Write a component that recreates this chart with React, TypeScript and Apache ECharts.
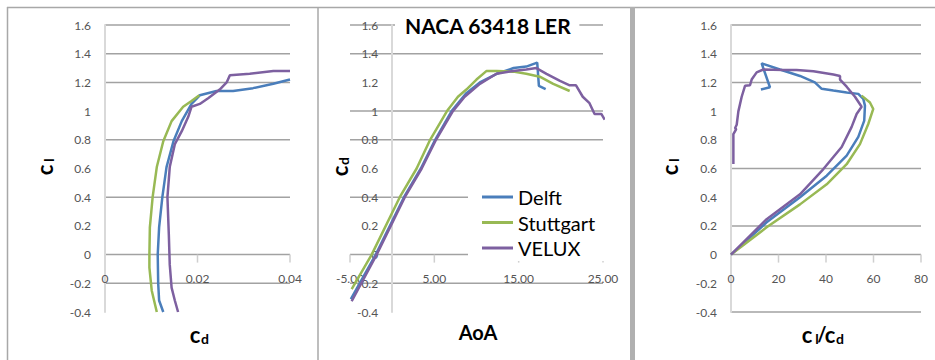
import React, { useEffect, useRef } from "react";
import * as echarts from "echarts";

// ---- data ----
const seriesNames = ["Delft", "Stuttgart", "VELUX"];
const seriesColors = ["#4a7ebb", "#98b954", "#7d60a0"];

// panel 1: cl vs cd  [cd, cl]
const delftCdCl = [[0.0126,-0.40],[0.0117,-0.32],[0.0115,-0.20],[0.0114,0.0],[0.0117,0.19],[0.0124,0.40],[0.0133,0.61],[0.0148,0.79],[0.0166,0.93],[0.0187,1.05],[0.0205,1.11],[0.0241,1.14],[0.0277,1.14],[0.0320,1.16],[0.0364,1.19],[0.0400,1.22]];
const stuttCdCl = [[0.0112,-0.40],[0.0101,-0.25],[0.0096,-0.09],[0.0096,0.0],[0.0097,0.19],[0.0103,0.40],[0.0112,0.61],[0.0126,0.79],[0.0144,0.93],[0.0169,1.03],[0.0187,1.07],[0.0204,1.11]];
const veluxCdCl = [[0.0158,-0.40],[0.0151,-0.32],[0.0144,-0.23],[0.0140,-0.07],[0.0138,0.14],[0.0135,0.40],[0.0140,0.61],[0.0151,0.77],[0.0166,0.86],[0.0180,0.96],[0.0187,1.03],[0.0205,1.05],[0.0223,1.09],[0.0248,1.15],[0.0263,1.20],[0.0270,1.25],[0.0313,1.26],[0.0364,1.28],[0.0400,1.28]];

// panel 2: cl vs AoA  [aoa, cl]
const delftAoaCl = [[-4.9,-0.31],[-1.95,0.0],[1.4,0.4],[3.4,0.6],[5.1,0.8],[7.05,1.0],[8.8,1.125],[10.4,1.2],[12.4,1.26],[14.4,1.30],[15.9,1.31],[17.2,1.338],[17.4,1.176],[18.2,1.153]];
const stuttAoaCl = [[-4.8,-0.24],[-2.43,0.0],[0.9,0.4],[2.9,0.6],[4.5,0.8],[6.5,1.0],[7.8,1.10],[8.8,1.15],[10.0,1.22],[11.2,1.28],[12.4,1.28],[14.35,1.275],[15.9,1.26],[17.5,1.24],[19.1,1.19],[21.05,1.14]];
const veluxAoaCl = [[-4.8,-0.325],[-1.84,0.0],[1.5,0.4],[3.5,0.6],[5.2,0.8],[7.2,1.0],[8.6,1.1],[10.4,1.19],[12.37,1.26],[14.35,1.28],[15.9,1.29],[17.1,1.30],[18.3,1.26],[19.9,1.21],[21.05,1.18],[21.8,1.18],[22.6,1.10],[23.4,1.055],[24.0,0.98],[24.8,0.98],[25.2,0.94]];

// panel 3: cl vs cl/cd  [cl/cd, cl]
const delftLdCl = [[0,0],[15.0,0.225],[29.05,0.40],[40.3,0.55],[48.7,0.69],[53.6,0.82],[56.1,0.934],[56.4,1.038],[55.7,1.085],[53.6,1.12],[48.7,1.13],[43.1,1.143],[38.2,1.155],[35.3,1.20],[29.05,1.245],[20.6,1.29],[12.9,1.333],[16.4,1.166],[12.6,1.15]];
const stuttLdCl = [[0,0],[15.0,0.19],[29.05,0.35],[40.3,0.49],[48.7,0.63],[54.3,0.77],[57.8,0.91],[59.9,1.015],[58.5,1.06],[55.0,1.108]];
const veluxLdCl = [[0,0],[15.0,0.247],[29.05,0.42],[38.9,0.596],[46.6,0.75],[50.8,0.89],[52.9,0.98],[55.0,1.03],[52.2,1.10],[48.7,1.17],[45.9,1.22],[45.9,1.245],[43.1,1.255],[34.7,1.278],[27.6,1.287],[22.0,1.287],[13.6,1.29],[10.8,1.27],[8.7,1.22],[8.0,1.18],[5.9,1.176],[4.5,1.10],[3.1,0.998],[2.4,0.905],[1.7,0.881],[2.2,0.875],[1.0,0.84],[1.0,0.632]];

// axis ranges
const clMin = -0.4, clMax = 1.6, clStep = 0.2;
const xRanges = [
  { min: 0, max: 0.04, interval: 0.02 },
  { min: -5, max: 25, interval: 10 },
  { min: 0, max: 80, interval: 20 },
];
const xTicks = [
  [0, 0.02, 0.04],
  [-5, 5, 15, 25],
  [0, 20, 40, 60, 80],
];

// visible horizontal gridlines in each panel (0 is the x-axis line)
const gridLinesCd = [1.6, 1.4, 1.2, 0.8, 0.4, 0, -0.2];
const gridLinesAoa = [1.6, 1.4, 1.0, 0.8, 0.4, 0, -0.2];
const gridLinesLd = [1.6, 1.4, 1.2, 0.6, 0.2, 0, -0.4];

const titleText = "NACA 63418 LER";

const FONT = "Lato";
const GRID_GRAY = "#a2a2a2";

export default function App() {
  const ref = useRef<HTMLDivElement>(null);
  useEffect(() => {
    if (!ref.current) return;
    const chart = echarts.init(ref.current, null, { renderer: "svg" });

    const grids = [
      { left: 105, top: 25, width: 185, height: 287 },
      { left: 350, top: 25, width: 253, height: 287 },
      { left: 731, top: 25, width: 190, height: 287 },
    ];
    const fmts: any[] = [undefined, (v: number) => v.toFixed(2), undefined];
    // each axis sits where the other axis has its zero
    const xOffset = (i: number) => -((0 - clMin) / (clMax - clMin)) * grids[i].height;
    const yOffset = (i: number) =>
      -((0 - xRanges[i].min) / (xRanges[i].max - xRanges[i].min)) * grids[i].width;

    const xAxis = xRanges.map((c, i) => {
      const ax: any = {
        type: "value",
        gridIndex: i,
        position: "bottom",
        offset: xOffset(i),
        min: c.min,
        max: c.max,
        interval: c.interval,
        axisLine: { show: false, onZero: false },
        axisTick: { show: false },
        splitLine: { show: false },
        axisLabel: { fontFamily: FONT, fontSize: 12, color: "#555", margin: 18 },
      };
      if (fmts[i]) ax.axisLabel.formatter = fmts[i];
      return ax;
    });
    const yAxis = [0, 1, 2].map((i) => ({
      type: "value",
      gridIndex: i,
      position: "left",
      offset: yOffset(i),
      min: clMin,
      max: clMax,
      interval: clStep,
      axisLine: { show: true, onZero: false, lineStyle: { color: "#d9d9d9", width: 2 } },
      axisTick: { show: false },
      splitLine: { show: false },
      axisLabel: { fontFamily: FONT, fontSize: 12, color: "#555", margin: 14 },
    }));

    const dataSets = [
      [delftCdCl, stuttCdCl, veluxCdCl],
      [delftAoaCl, stuttAoaCl, veluxAoaCl],
      [delftLdCl, stuttLdCl, veluxLdCl],
    ];
    const series: any[] = [];
    dataSets.forEach((sets, i) => {
      sets.forEach((d, k) => {
        series.push({
          type: "line",
          name: seriesNames[k],
          xAxisIndex: i,
          yAxisIndex: i,
          data: d,
          showSymbol: false,
          color: seriesColors[k],
          lineStyle: { color: seriesColors[k], width: 2.5 },
        });
      });
    });

    chart.setOption({
      animation: false,
      title: {
        text: titleText,
        left: 395,
        top: 12,
        padding: [3, 8, 3, 10],
        backgroundColor: "#fff",
        textStyle: { fontFamily: FONT, fontWeight: "bold", fontSize: 21, color: "#000" },
      },
      legend: {
        data: seriesNames,
        orient: "vertical",
        left: 468,
        top: 184,
        padding: [3, 10, 3, 14],
        backgroundColor: "#fff",
        icon: "rect",
        itemWidth: 31,
        itemHeight: 3,
        itemGap: 5.5,
        textStyle: { fontFamily: FONT, fontSize: 20, color: "#000", lineHeight: 20 },
      },
      grid: grids,
      xAxis,
      yAxis,
      series,
    });

    // gridlines and x ticks, positioned through the chart's own scales
    const gridLineSets = [gridLinesCd, gridLinesAoa, gridLinesLd];
    const gridEls: any[] = [];
    gridLineSets.forEach((vals, i) => {
      vals.forEach((v) => {
        const p1 = chart.convertToPixel({ gridIndex: i }, [xRanges[i].min, v]) as number[];
        const p2 = chart.convertToPixel({ gridIndex: i }, [xRanges[i].max, v]) as number[];
        if (!p1 || !p2) return;
        gridEls.push({
          type: "line",
          silent: true,
          z: 0,
          shape: { x1: p1[0], y1: p1[1], x2: p2[0], y2: p2[1] },
          style: { stroke: GRID_GRAY, lineWidth: 1.5 },
        });
      });
      xTicks[i].forEach((t) => {
        const p = chart.convertToPixel({ gridIndex: i }, [t, 0]) as number[];
        if (!p) return;
        gridEls.push({
          type: "line",
          silent: true,
          z: 0,
          shape: { x1: p[0], y1: p[1], x2: p[0], y2: p[1] + 8 },
          style: { stroke: "#cfcfcf", lineWidth: 1.5 },
        });
      });
    });

    const sub = (cx: number, cy: number, main: string, s: string, rotated: boolean) => [
      {
        type: "text",
        x: cx,
        y: cy,
        rotation: rotated ? Math.PI / 2 : 0,
        style: { text: main, fontSize: 22, fontWeight: "bold", fontFamily: FONT, fill: "#000", align: "center", verticalAlign: "middle" },
      },
      {
        type: "text",
        x: rotated ? cx + 4 : cx + 10,
        y: rotated ? cy - 10 : cy + 4,
        rotation: rotated ? Math.PI / 2 : 0,
        style: { text: s, fontSize: 14, fontWeight: "bold", fontFamily: FONT, fill: "#000", align: "center", verticalAlign: "middle" },
      },
    ];

    const graphic: any[] = [
      ...gridEls,
      { type: "line", shape: { x1: 7, y1: 7.5, x2: 935, y2: 7.5 }, style: { stroke: "#a8a8a8", lineWidth: 1.5 }, silent: true },
      { type: "line", shape: { x1: 7.5, y1: 7, x2: 7.5, y2: 360 }, style: { stroke: "#a8a8a8", lineWidth: 1.5 }, silent: true },
      { type: "line", shape: { x1: 318, y1: 7, x2: 318, y2: 360 }, style: { stroke: "#a8a8a8", lineWidth: 1.5 }, silent: true },
      { type: "rect", shape: { x: 630, y: 7, width: 5, height: 353 }, style: { fill: "#b0b0b0" }, silent: true },
      ...sub(44, 170, "c", "l", true),
      ...sub(195, 334, "c", "d", false),
      ...sub(339, 171, "c", "d", true),
      {
        type: "text",
        x: 478,
        y: 332,
        style: { text: "AoA", fontSize: 20, fontWeight: "bold", fontFamily: FONT, fill: "#000", align: "center", verticalAlign: "middle" },
      },
      ...sub(669, 170, "c", "l", true),
      ...sub(807, 334, "c", "l", false),
      {
        type: "text",
        x: 822,
        y: 334,
        style: { text: "/", fontSize: 20, fontWeight: "bold", fontFamily: FONT, fill: "#000", align: "center", verticalAlign: "middle" },
      },
      ...sub(830, 334, "c", "d", false),
    ];

    chart.setOption({ graphic });
    return () => chart.dispose();
  }, []);
  return (
    <div
      ref={ref}
      style={{ position: "fixed", left: 0, top: 0, width: 935, height: 360, background: "#fff" }}
    />
  );
}
